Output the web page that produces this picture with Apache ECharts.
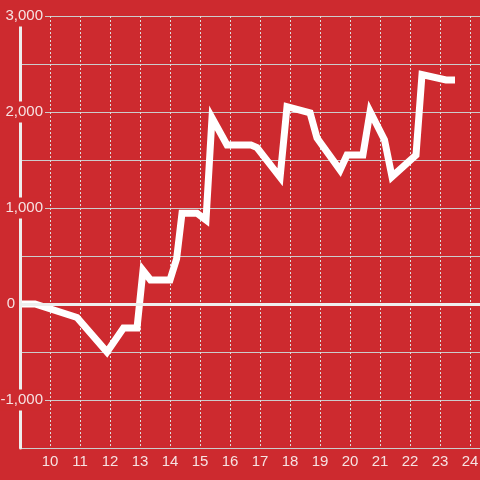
<!DOCTYPE html>
<html>
<head>
<meta charset="utf-8">
<script src="https://cdn.jsdelivr.net/npm/echarts@6/dist/echarts.min.js"></script>
<style>
  html, body { margin: 0; padding: 0; background: #cd2a2f; }
  #chart { width: 480px; height: 480px; }
</style>
</head>
<body>
<div id="chart"></div>
<script>
// x positions (hours) and values
const hours = [9, 9.5, 10.9, 11.9, 12.45, 12.9, 13.1, 13.35, 14.0, 14.22, 14.4, 14.9, 15.2, 15.4, 15.9, 16.7,
  16.9, 17.67, 17.9, 18.67, 18.9, 19.67, 19.9, 20.43, 20.67, 21.15, 21.4, 22.2, 22.4, 23.2, 23.5];
const values = [0, 0, -140, -500, -250, -250, 350, 250, 250, 470, 945, 945, 875, 1940, 1656, 1656,
  1630, 1320, 2055, 1990, 1729, 1396, 1552, 1552, 2005, 1710, 1326, 1552, 2390, 2333, 2333];
const yLabelValues = [-1000, 0, 1000, 2000, 3000];

const bg = '#cd2a2f';
const textColor = '#f6e2e2';
const fontFamily = 'Liberation Sans, Arial, sans-serif';

const chart = echarts.init(document.getElementById('chart'), null, { renderer: 'canvas' });

const fmtNum = (v) => v.toLocaleString('en-US');

const option = {
  backgroundColor: bg,
  animation: false,
  grid: { left: 20, right: -20, top: 16, bottom: 32, containLabel: false, outerBoundsMode: 'none' },
  xAxis: {
    type: 'value',
    min: 9,
    max: 25,
    interval: 1,
    axisLine: { show: false },
    axisTick: { show: false },
    axisLabel: {
      color: textColor,
      fontSize: 15,
      fontFamily: fontFamily,
      margin: 6,
      formatter: (v) => (v === 9 || v === 25 ? '' : String(v)),
    },
    splitLine: {
      show: true,
      lineStyle: { color: '#dddddd', width: 1, type: [2, 2] },
    },
  },
  yAxis: [
    {
      // grid lines only
      type: 'value',
      min: -1500,
      max: 3000,
      interval: 500,
      z: 0,
      axisLine: { show: false },
      axisTick: { show: false },
      axisLabel: { show: false },
      splitLine: { show: true, lineStyle: { color: '#cccccc', width: 1 } },
    },
    {
      // axis line and labels, drawn on top
      type: 'value',
      position: 'left',
      min: -1500,
      max: 3000,
      interval: 500,
      z: 5,
      axisLine: { show: true, lineStyle: { color: '#eeeeee', width: 3 } },
      axisTick: { show: false },
      splitLine: { show: false },
      axisLabel: {
        margin: -25,
        color: textColor,
        fontSize: 15,
        fontFamily: fontFamily,
        formatter: (v) => {
          if (!yLabelValues.includes(v)) return '';
          if (v === 0) return '{z|0}';
          return '{b|' + fmtNum(v) + '}';
        },
        rich: {
          b: {
            color: textColor,
            fontSize: 15,
            fontFamily: fontFamily,
            backgroundColor: bg,
            padding: [3, 2, 3, 24],
          },
          z: {
            color: textColor,
            fontSize: 15,
            fontFamily: fontFamily,
            padding: [0, 30, 0, 0],
          },
        },
      },
    },
  ],
  series: [
    {
      type: 'line',
      yAxisIndex: 0,
      data: hours.map((h, i) => [h, values[i]]),
      showSymbol: false,
      symbol: 'none',
      lineStyle: { color: '#ffffff', width: 7, join: 'miter' },
      z: 3,
      markLine: {
        silent: true,
        symbol: 'none',
        label: { show: false },
        lineStyle: { color: '#eeeeee', width: 3, type: 'solid' },
        data: [{ yAxis: 0 }],
      },
    },
  ],
};

chart.setOption(option);
</script>
</body>
</html>
